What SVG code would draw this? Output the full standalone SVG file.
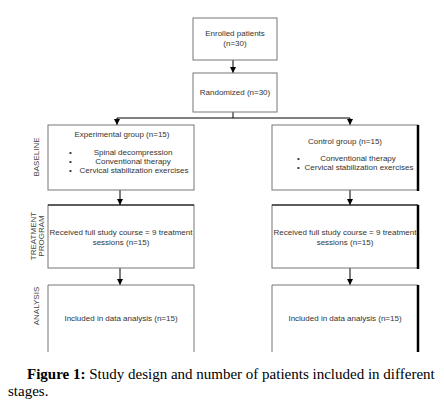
<svg xmlns="http://www.w3.org/2000/svg" width="444" height="412" viewBox="0 0 444 412">
<style>
.box{fill:#fff;stroke:#777;stroke-width:1}
.t{font-family:"Liberation Sans",Arial,sans-serif;font-size:8px;fill:#333}
.c{text-anchor:middle}
.side{font-family:"Liberation Sans",Arial,sans-serif;font-size:8px;fill:#444;text-anchor:middle}
.conn{stroke:#000;stroke-width:1;fill:none}
.thick{stroke:#000;stroke-width:2.5}
.cap{font-family:"Liberation Serif","Times New Roman",serif;font-size:15px;fill:#000}
</style>
<defs>
<marker id="ah" viewBox="0 0 6 6" refX="6" refY="3" markerWidth="6" markerHeight="6" orient="auto" markerUnits="userSpaceOnUse">
<path d="M0,0 L6,3 L0,6 Z" fill="#000"/>
</marker>
</defs>
<rect width="444" height="412" fill="#fff"/>
<g id="connectors">
<line class="conn" x1="233" y1="60" x2="233" y2="73" marker-end="url(#ah)"/>
<polyline class="conn" points="233,112 233,118"/>
<polyline class="conn" points="117,118 350,118"/>
<line class="conn" x1="117" y1="118" x2="117" y2="125" marker-end="url(#ah)"/>
<line class="conn" x1="350" y1="118" x2="350" y2="125" marker-end="url(#ah)"/>
<line class="conn" x1="120" y1="190" x2="120" y2="205" marker-end="url(#ah)"/>
<line class="conn" x1="350" y1="190" x2="350" y2="205" marker-end="url(#ah)"/>
<line class="conn" x1="120" y1="268" x2="120" y2="285" marker-end="url(#ah)"/>
<line class="conn" x1="350" y1="268" x2="350" y2="285" marker-end="url(#ah)"/>
</g>
<g id="enrolled">
<rect class="box" x="193" y="18" width="84" height="42"/>
<text class="t c" x="235" y="36">Enrolled patients</text>
<text class="t c" x="235" y="46">(n=30)</text>
</g>
<g id="randomized">
<rect class="box" x="193" y="73" width="84" height="39"/>
<text class="t c" x="235" y="95">Randomized (n=30)</text>
</g>
<g id="label-baseline">
<text class="side" transform="translate(39,157) rotate(-90)">BASELINE</text>
</g>
<g id="label-treatment">
<text class="side" transform="translate(36,236) rotate(-90)">TREATMENT</text>
<text class="side" transform="translate(44,236) rotate(-90)">PROGRAM</text>
</g>
<g id="label-analysis">
<text class="side" transform="translate(39,306) rotate(-90)">ANALYSIS</text>
</g>
<g id="exp-baseline">
<rect class="box" x="48" y="125" width="146" height="65"/>
<text class="t c" x="122" y="137">Experimental group (n=15)</text>
<text class="t" x="69" y="155">•</text>
<text class="t c" x="133" y="155">Spinal decompression</text>
<text class="t" x="69" y="164">•</text>
<text class="t c" x="133" y="164">Conventional therapy</text>
<text class="t" x="69" y="173">•</text>
<text class="t c" x="134" y="173">Cervical stabilization exercises</text>
</g>
<g id="ctrl-baseline">
<rect class="box" x="272" y="125" width="146" height="65"/>
<line class="thick" x1="418" y1="125" x2="418" y2="191"/>
<text class="t c" x="345" y="144">Control group (n=15)</text>
<text class="t" x="297" y="161">•</text>
<text class="t c" x="358" y="161">Conventional therapy</text>
<text class="t" x="297" y="170">•</text>
<text class="t c" x="359" y="170">Cervical stabilization exercises</text>
</g>
<g id="exp-treatment">
<rect class="box" x="48" y="205" width="146" height="63"/>
<line class="conn" x1="48" y1="205" x2="194" y2="205"/>
<text class="t c" x="121" y="235">Received full study course = 9 treatment</text>
<text class="t c" x="121" y="245">sessions (n=15)</text>
</g>
<g id="ctrl-treatment">
<rect class="box" x="272" y="205" width="146" height="63"/>
<line class="conn" x1="272" y1="205" x2="418" y2="205"/>
<line class="thick" x1="418" y1="205" x2="418" y2="269"/>
<text class="t c" x="345" y="235">Received full study course = 9 treatment</text>
<text class="t c" x="345" y="245">sessions (n=15)</text>
</g>
<g id="exp-analysis">
<path class="box" d="M48,352 V285 H194 V352"/>
<text class="t c" x="121" y="321">Included in data analysis (n=15)</text>
</g>
<g id="ctrl-analysis">
<path class="box" d="M272,352 V285 H418"/>
<line class="thick" x1="418" y1="285" x2="418" y2="352"/>
<text class="t c" x="345" y="321">Included in data analysis (n=15)</text>
</g>
<g id="caption">
<text class="cap" x="27" y="379"><tspan font-weight="bold">Figure 1:</tspan> Study design and number of patients included in different</text>
<text class="cap" x="8" y="396">stages.</text>
</g>
</svg>
